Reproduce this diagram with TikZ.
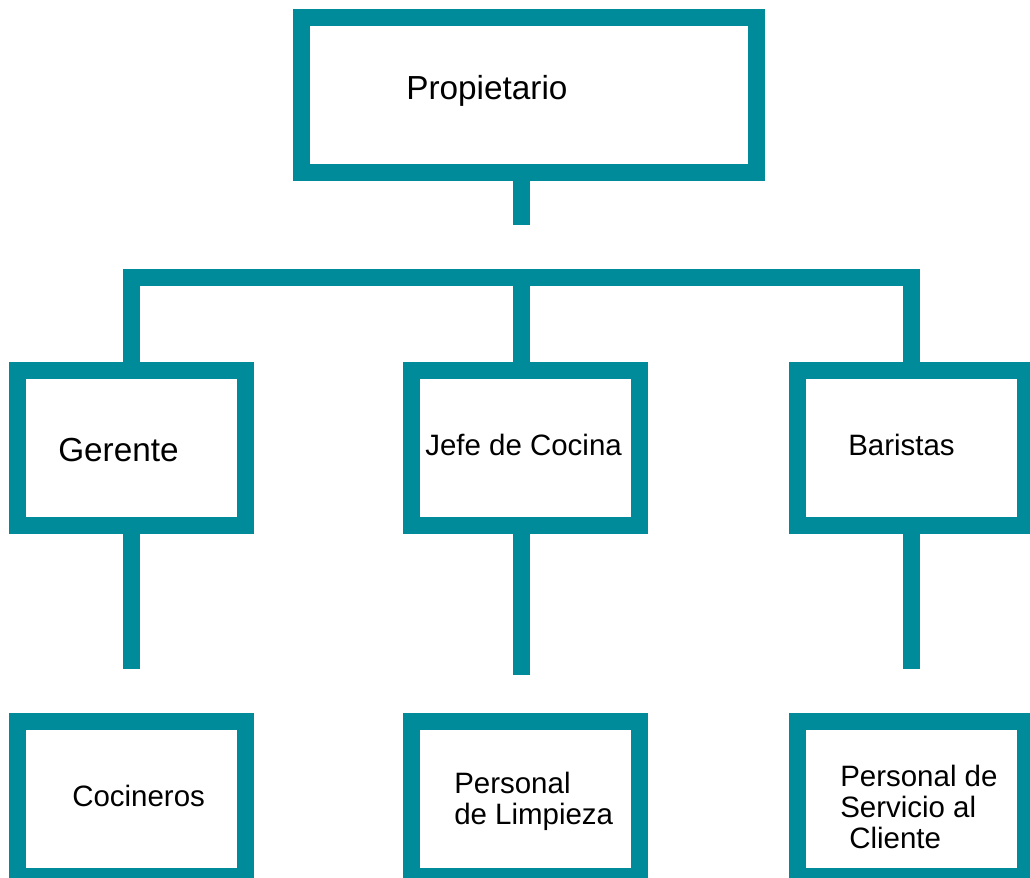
\documentclass[tikz,border=0pt]{standalone}
\usepackage{fontspec}
\setmainfont{Liberation Sans}
\definecolor{orgteal}{RGB}{0,139,155}
\begin{document}
\begin{tikzpicture}[x=0.75pt,y=-0.75pt,
  box/.style={draw=orgteal,line width=12.75pt,minimum width=171pt,minimum height=116.25pt,inner sep=0pt},
  link/.style={draw=orgteal,line width=12.75pt},
  big/.style={inner sep=0pt,anchor=base west,font=\fontsize{25pt}{30pt}\selectfont},
  txt/.style={inner sep=0pt,anchor=base west,align=left,font=\fontsize{22.1pt}{23.25pt}\selectfont}]
  \useasboundingbox (0,0) rectangle (1030,877);
  \node[box,minimum width=341.25pt] (prop) at (529,95) {};
  \node[box] (ger) at (131.5,448) {};
  \node[box] (jefe) at (525,448) {};
  \node[box] (bar) at (911.5,448) {};
  \node[box] (coc) at (131.5,799) {};
  \node[box] (limp) at (525,799) {};
  \node[box] (serv) at (911.5,799) {};
  \node[big] (tprop) at (406,100) {Propietario};
  \node[big] (tger) at (58,461) {Gerente};
  \node[txt] (tjefe) at (425,455) {Jefe de Cocina};
  \node[txt] (tbar) at (848,455) {Baristas};
  \node[txt] (tcoc) at (72,806) {Cocineros};
  \node[txt] (tlimp) at (454,824) {Personal\\de Limpieza};
  \node[txt] (tserv) at (840,848) {Personal de\\Servicio al\\\hspace*{6.75pt}Cliente};
  \coordinate (hub) at (521.5,277);
  \coordinate (propend) at (521.5,225);
  \coordinate (gerend) at (131.5,669);
  \coordinate (jefeend) at (521.5,675);
  \coordinate (barend) at (911.5,669);
  \draw[link] (prop.south -| propend) -- (propend);
  \draw[link] (ger.north) -- (ger.north |- hub) -- (bar.north |- hub) -- (bar.north);
  \draw[link] (hub) -- (hub |- jefe.north);
  \draw[link] (ger.south) -- (gerend);
  \draw[link] (jefe.south -| jefeend) -- (jefeend);
  \draw[link] (bar.south) -- (barend);
\end{tikzpicture}
\end{document}
